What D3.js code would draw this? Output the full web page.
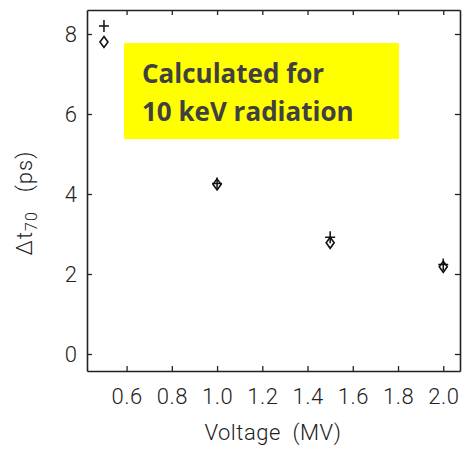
<!DOCTYPE html>
<html>
<head>
<meta charset="utf-8">
<script src="https://cdn.jsdelivr.net/npm/d3@7"></script>
<style>
body { margin: 0; background: #fff; }
svg text { font-family: Roboto, "DejaVu Sans", sans-serif; font-weight: 300; fill: #222; white-space: pre; }
</style>
</head>
<body>
<script>
// data
var voltages = [0.5, 1.0, 1.5, 2.0];
var diamondVals = [7.8, 4.24, 2.78, 2.18];
var plusVals = [8.2, 4.26, 2.92, 2.24];
var xTicks = [0.6, 0.8, 1.0, 1.2, 1.4, 1.6, 1.8, 2.0];
var yTicks = [0, 2, 4, 6, 8];

var width = 463, height = 449;
var margin = {top: 10, right: 3, bottom: 78, left: 87};

var x = d3.scaleLinear().domain([0.425, 2.074]).range([margin.left, width - margin.right]);
var y = d3.scaleLinear().domain([-0.425, 8.6]).range([height - margin.bottom, margin.top]);

var svg = d3.select("body").append("svg")
    .attr("width", width)
    .attr("height", height);

var tick = 5;

// frame with inward ticks on all four sides
svg.append("g")
    .attr("transform", "translate(0," + y.range()[0] + ")")
    .call(d3.axisBottom(x).tickValues(xTicks).tickSizeInner(-tick).tickSizeOuter(0).tickFormat(d3.format(".1f")).tickPadding(17))
    .call(g => g.selectAll("text").style("font-size", "22px").attr("letter-spacing", "0.5px"));

svg.append("g")
    .attr("transform", "translate(0," + y.range()[1] + ")")
    .call(d3.axisTop(x).tickValues(xTicks).tickSizeInner(-tick).tickSizeOuter(0).tickFormat(""));

svg.append("g")
    .attr("transform", "translate(" + x.range()[0] + ",0)")
    .call(d3.axisLeft(y).tickValues(yTicks).tickSizeInner(-tick).tickSizeOuter(0).tickPadding(10))
    .call(g => g.selectAll("text").style("font-size", "22px"));

svg.append("g")
    .attr("transform", "translate(" + x.range()[1] + ",0)")
    .call(d3.axisRight(y).tickValues(yTicks).tickSizeInner(-tick).tickSizeOuter(0).tickFormat(""));

svg.selectAll(".domain").attr("stroke", "#222").attr("stroke-width", 1.6);
svg.selectAll(".tick line").attr("stroke", "#222").attr("stroke-width", 1.3);

// axis titles
svg.append("text")
    .attr("x", 273)
    .attr("y", 440)
    .attr("text-anchor", "middle")
    .attr("letter-spacing", "0.5px")
    .style("font-size", "22px")
    .text("Voltage  (MV)");

var yl = svg.append("text")
    .attr("transform", "translate(32,203) rotate(-90)")
    .attr("text-anchor", "middle")
    .attr("letter-spacing", "1px")
    .style("font-size", "22px");
yl.append("tspan").text("\u0394t");
yl.append("tspan").attr("dy", 5).style("font-size", "16px").text("70");
yl.append("tspan").attr("dy", -5).text("   (ps)");

// markers
var pts = voltages.map(function(v, i) { return {v: v, d: diamondVals[i], p: plusVals[i]}; });

svg.selectAll(".plus")
    .data(pts)
    .enter().append("path")
    .attr("class", "plus")
    .attr("d", function(d) {
        var cx = x(d.v), cy = y(d.p);
        return "M" + (cx - 5) + "," + cy + "H" + (cx + 5) + "M" + cx + "," + (cy - 6) + "V" + (cy + 6);
    })
    .attr("stroke", "#111")
    .attr("stroke-width", 1.5)
    .attr("fill", "none");

svg.selectAll(".diamond")
    .data(pts)
    .enter().append("path")
    .attr("class", "diamond")
    .attr("d", function(d) {
        var cx = x(d.v), cy = y(d.d);
        return "M" + cx + "," + (cy - 5.5) + "L" + (cx + 4) + "," + cy + "L" + cx + "," + (cy + 5.5) + "L" + (cx - 4) + "," + cy + "Z";
    })
    .attr("stroke", "#111")
    .attr("stroke-width", 1.6)
    .attr("fill", "none");

// yellow annotation box
svg.append("rect")
    .attr("x", 124).attr("y", 43)
    .attr("width", 275).attr("height", 96)
    .attr("fill", "#ffff00");

var note = svg.append("text")
    .style("font-family", "'Open Sans', sans-serif")
    .style("font-weight", "bold")
    .style("font-size", "26px")
    .style("fill", "#404040");
note.append("tspan").attr("x", 142).attr("y", 83).text("Calculated for");
note.append("tspan").attr("x", 142).attr("y", 121).text("10 keV radiation");
</script>
</body>
</html>
